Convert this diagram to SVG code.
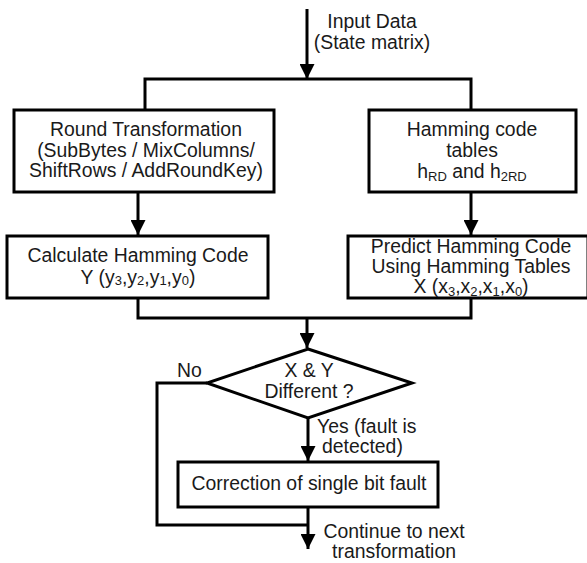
<svg xmlns="http://www.w3.org/2000/svg" width="587" height="563" viewBox="0 0 587 563">
<defs>
<marker id="ah" viewBox="0 0 10 10" refX="10" refY="5" markerWidth="5" markerHeight="5" markerUnits="strokeWidth" orient="auto"><path d="M0,0 L10,5 L0,10 z" fill="#000"/></marker>
<style>
.box{fill:#fff;stroke:#000;stroke-width:3}
.ln{fill:none;stroke:#000;stroke-width:3}
.ar{fill:none;stroke:#000;stroke-width:3;marker-end:url(#ah)}
text{font-family:"Liberation Sans",Arial,sans-serif;font-size:19.4px;fill:#1a1a1a}
.c{text-anchor:middle}
.sub{font-size:13px}
</style>
</defs>
<rect width="587" height="563" fill="#fff"/>
<g id="connectors">
<line class="ar" x1="307" y1="9" x2="307" y2="79"/>
<polyline class="ln" points="145,110 145,79 471,79 471,110"/>
<line class="ar" x1="138" y1="192" x2="138" y2="235"/>
<line class="ar" x1="471" y1="192" x2="471" y2="235"/>
<polyline class="ln" points="138,298 138,318 471,318 471,298"/>
<line class="ar" x1="307" y1="318" x2="307" y2="348"/>
<line class="ar" x1="308" y1="418" x2="308" y2="461"/>
<polyline class="ln" points="207,383 157,383 157,525 308,525"/>
<line class="ar" x1="308" y1="507" x2="308" y2="549"/>
</g>
<g id="input">
<text class="c" x="372" y="28">Input Data</text>
<text class="c" x="372" y="49">(State matrix)</text>
</g>
<g id="round">
<rect class="box" x="14" y="110" width="260" height="82"/>
<text class="c" x="146" y="136">Round Transformation</text>
<text class="c" x="146" y="157">(SubBytes / MixColumns/</text>
<text class="c" x="146" y="177">ShiftRows / AddRoundKey)</text>
</g>
<g id="tables">
<rect class="box" x="369" y="110" width="207" height="82"/>
<text class="c" x="472" y="136">Hamming code</text>
<text class="c" x="472" y="157">tables</text>
<text class="c" x="472" y="178">h<tspan class="sub" dy="3">RD</tspan><tspan dy="-3"> and h</tspan><tspan class="sub" dy="3">2RD</tspan></text>
</g>
<g id="calc">
<rect class="box" x="7" y="236" width="261" height="62"/>
<text class="c" x="138" y="262">Calculate Hamming Code</text>
<text class="c" x="138" y="284">Y (y<tspan class="sub" dy="1">3</tspan><tspan dy="-1">,y</tspan><tspan class="sub" dy="1">2</tspan><tspan dy="-1">,y</tspan><tspan class="sub" dy="1">1</tspan><tspan dy="-1">,y</tspan><tspan class="sub" dy="1">0</tspan><tspan dy="-1">)</tspan></text>
</g>
<g id="predict">
<rect class="box" x="348" y="236" width="240" height="62"/>
<text class="c" x="471" y="253">Predict Hamming Code</text>
<text class="c" x="471" y="273">Using Hamming Tables</text>
<text class="c" x="471" y="293">X (x<tspan class="sub" dy="3">3</tspan><tspan dy="-3">,x</tspan><tspan class="sub" dy="3">2</tspan><tspan dy="-3">,x</tspan><tspan class="sub" dy="3">1</tspan><tspan dy="-3">,x</tspan><tspan class="sub" dy="3">0</tspan><tspan dy="-3">)</tspan></text>
</g>
<g id="decision">
<polygon class="box" points="308,349 412,383 308,418 207,383"/>
<text class="c" x="309" y="377">X  &amp; Y</text>
<text class="c" x="309" y="398">Different ?</text>
</g>
<g id="labels">
<text x="177" y="377">No</text>
<text x="317" y="433">Yes (fault is</text>
<text x="322" y="453">detected)</text>
<text class="c" x="394" y="538">Continue to next</text>
<text class="c" x="394" y="558">transformation</text>
</g>
<g id="correction">
<rect class="box" x="178" y="462" width="260" height="45"/>
<text class="c" x="309" y="490">Correction of single bit fault</text>
</g>
</svg>
